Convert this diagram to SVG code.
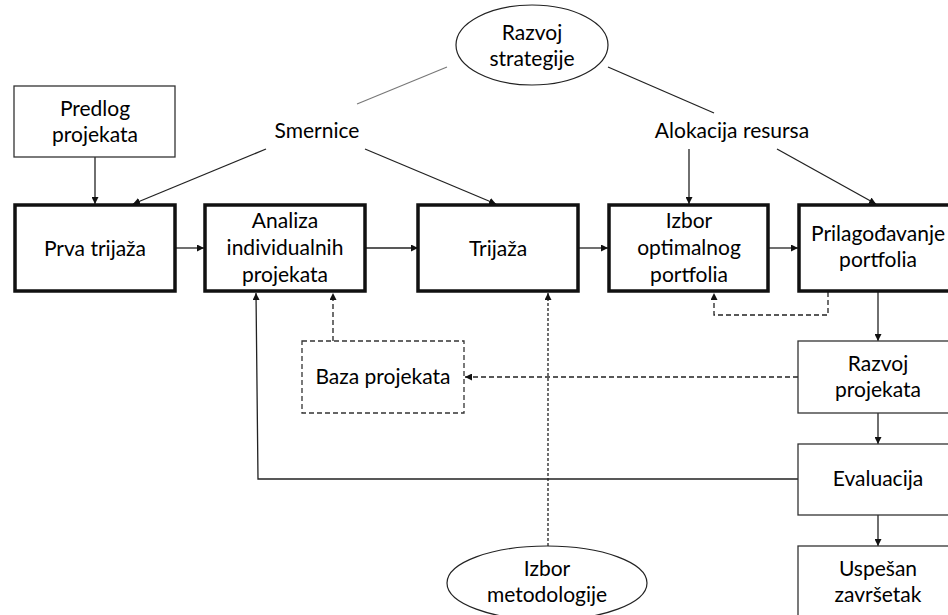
<svg xmlns="http://www.w3.org/2000/svg" width="948" height="615" viewBox="0 0 948 615">
  <style>
    text { font-family: Lato, "Open Sans", "Liberation Sans", sans-serif; font-size: 21px; fill: #000; text-anchor: middle; }
    .thick { fill: #fff; stroke: #111; stroke-width: 3.5; }
    .thin { fill: #fff; stroke: #333; stroke-width: 1.3; }
    .dashbox { fill: #fff; stroke: #333; stroke-width: 1.3; stroke-dasharray: 5 3; }
    .oval { fill: #fff; stroke: #222; stroke-width: 1.2; }
    .line { fill: none; stroke: #222; stroke-width: 1.3; }
    .arrow { fill: none; stroke: #222; stroke-width: 1.3; marker-end: url(#ah); }
    .dash { fill: none; stroke: #222; stroke-width: 1.3; stroke-dasharray: 5 3; marker-end: url(#ah); }
    .dot { fill: none; stroke: #222; stroke-width: 1.3; stroke-dasharray: 3 2; marker-end: url(#ah); }
  </style>
  <defs>
    <marker id="ah" viewBox="0 0 10 10" refX="10" refY="5" markerWidth="7" markerHeight="7" markerUnits="userSpaceOnUse" orient="auto">
      <path d="M0,0 L10,5 L0,10 z" fill="#111"/>
    </marker>
  </defs>
  <rect width="948" height="615" fill="#fff"/>

  <g id="connectors">
    <line x1="447" y1="67" x2="357" y2="104" stroke="#777" stroke-width="1.1"/>
    <line class="line" x1="608" y1="67" x2="714" y2="113"/>
    <line class="arrow" x1="266" y1="149" x2="133" y2="204"/>
    <line class="arrow" x1="365" y1="149" x2="496" y2="204"/>
    <line class="arrow" x1="689" y1="149" x2="689" y2="204"/>
    <line class="arrow" x1="777" y1="149" x2="876" y2="204"/>
    <line class="arrow" x1="95" y1="157" x2="95" y2="204"/>
    <line class="arrow" x1="176" y1="248" x2="204" y2="248"/>
    <line class="arrow" x1="366" y1="248" x2="418" y2="248"/>
    <line class="arrow" x1="579" y1="248" x2="608" y2="248"/>
    <line class="arrow" x1="769" y1="248" x2="798" y2="248"/>
    <polyline class="dash" points="828,292 828,315 714,315 714,293"/>
    <line class="arrow" x1="878" y1="292" x2="878" y2="341"/>
    <line class="arrow" x1="878" y1="413" x2="878" y2="444"/>
    <line class="arrow" x1="878" y1="515" x2="878" y2="546"/>
    <line class="dash" x1="798" y1="377" x2="465" y2="377"/>
    <line class="dash" x1="333" y1="341" x2="333" y2="293"/>
    <polyline class="arrow" points="798,479 258,479 256,293"/>
    <line class="dot" x1="548" y1="546" x2="548" y2="293"/>
  </g>

  <g id="razvoj-strategije">
    <ellipse class="oval" cx="532" cy="45" rx="76" ry="40"/>
    <text x="532" y="40">Razvoj</text>
    <text x="532" y="66">strategije</text>
  </g>
  <g id="smernice">
    <text x="317" y="138">Smernice</text>
  </g>
  <g id="alokacija-resursa">
    <text x="732" y="138">Alokacija resursa</text>
  </g>
  <g id="predlog-projekata">
    <rect class="thin" x="14" y="86" width="161" height="71"/>
    <text x="95" y="116">Predlog</text>
    <text x="95" y="142">projekata</text>
  </g>
  <g id="prva-trijaza">
    <rect class="thick" x="15" y="205" width="160" height="86"/>
    <text x="95" y="256">Prva trijaža</text>
  </g>
  <g id="analiza">
    <rect class="thick" x="205" y="205" width="160" height="86"/>
    <text x="285" y="228">Analiza</text>
    <text x="285" y="255">individualnih</text>
    <text x="285" y="282">projekata</text>
  </g>
  <g id="trijaza">
    <rect class="thick" x="418" y="205" width="160" height="86"/>
    <text x="498" y="256">Trijaža</text>
  </g>
  <g id="izbor-portfolia">
    <rect class="thick" x="609" y="205" width="159" height="86"/>
    <text x="689" y="228">Izbor</text>
    <text x="689" y="255">optimalnog</text>
    <text x="689" y="282">portfolia</text>
  </g>
  <g id="prilagodjavanje">
    <rect class="thick" x="799" y="205" width="160" height="86"/>
    <text x="878" y="241">Prilagođavanje</text>
    <text x="878" y="267">portfolia</text>
  </g>
  <g id="baza-projekata">
    <rect class="dashbox" x="302" y="341" width="162" height="72"/>
    <text x="383" y="384">Baza projekata</text>
  </g>
  <g id="razvoj-projekata">
    <rect class="thin" x="798" y="341" width="160" height="72"/>
    <text x="878" y="371">Razvoj</text>
    <text x="878" y="397">projekata</text>
  </g>
  <g id="evaluacija">
    <rect class="thin" x="798" y="444" width="160" height="71"/>
    <text x="878" y="486">Evaluacija</text>
  </g>
  <g id="uspesan-zavrsetak">
    <rect class="thin" x="798" y="546" width="160" height="80"/>
    <text x="878" y="576">Uspešan</text>
    <text x="878" y="602">završetak</text>
  </g>
  <g id="izbor-metodologije">
    <ellipse class="oval" cx="547" cy="583" rx="100" ry="37"/>
    <text x="547" y="576">Izbor</text>
    <text x="547" y="602">metodologije</text>
  </g>
</svg>
